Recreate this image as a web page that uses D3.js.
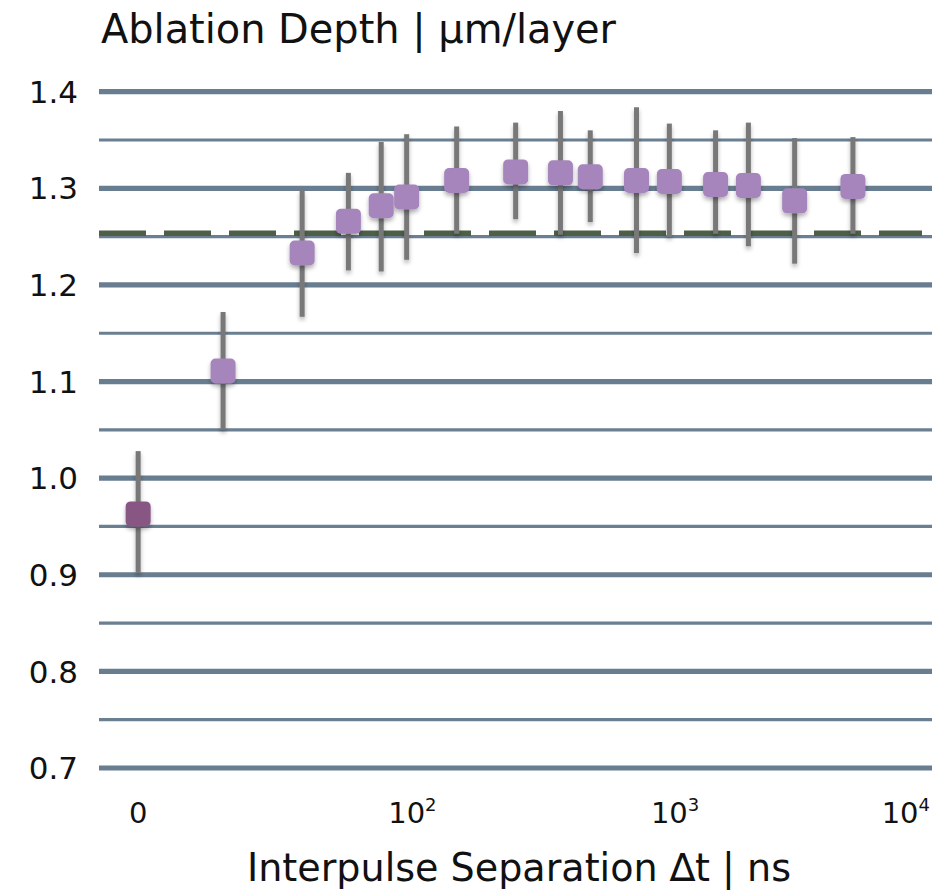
<!DOCTYPE html>
<html>
<head>
<meta charset="utf-8">
<script src="https://cdnjs.cloudflare.com/ajax/libs/d3/7.8.5/d3.min.js"></script>
<style>
  body { margin: 0; background: #fff; }
  svg { display: block; }
</style>
</head>
<body>
<svg width="951" height="890"></svg>
<script>
// interpulse separation in ns (0 = single pulse) and ablation depth in µm/layer
const delays = [0, 20, 40, 60, 80, 100, 155, 260, 385, 500, 750, 1000, 1500, 2000, 3000, 5000];
const depth = [0.963, 1.111, 1.233, 1.266, 1.282, 1.291, 1.308, 1.317, 1.316, 1.312, 1.308, 1.307, 1.304, 1.303, 1.287, 1.302];
const depthLow = [0.902, 1.050, 1.167, 1.215, 1.214, 1.226, 1.253, 1.268, 1.252, 1.265, 1.233, 1.250, 1.253, 1.240, 1.222, 1.253];
const depthHigh = [1.028, 1.172, 1.298, 1.316, 1.348, 1.356, 1.364, 1.368, 1.380, 1.360, 1.384, 1.367, 1.360, 1.368, 1.352, 1.353];
const referenceDepth = 1.2535;

const yMajor = [0.7, 0.8, 0.9, 1.0, 1.1, 1.2, 1.3, 1.4];
const yMinor = [0.75, 0.85, 0.95, 1.05, 1.15, 1.25, 1.35];
const xTicks = [0, 100, 1000, 10000];
const xTickBase = ["0", "10", "10", "10"];
const xTickExp = ["", "2", "3", "4"];

const svg = d3.select("svg");
const gridLeft = 99, gridRight = 932;

// log axis; the 0 ns point sits just left of 10 ns
const zeroAt = 9.5;
const xLog = d3.scaleLog().domain([10, 10000]).range([144, 932]);
const x = d => xLog(d === 0 ? zeroAt : d);
const y = d3.scaleLinear().domain([0.7, 1.4]).range([768, 91.7]);

const defs = svg.append("defs");
const shadow = defs.append("filter").attr("id", "shadow")
    .attr("x", "-50%").attr("y", "-50%").attr("width", "200%").attr("height", "200%");
shadow.append("feDropShadow").attr("dx", 0).attr("dy", 3).attr("stdDeviation", 2)
    .attr("flood-color", "#000").attr("flood-opacity", 0.3);

// grid
svg.append("g").selectAll("line").data(yMinor).join("line")
    .attr("x1", gridLeft).attr("x2", gridRight)
    .attr("y1", d => y(d)).attr("y2", d => y(d))
    .attr("stroke", "#6a7f92").attr("stroke-width", 3.2);
svg.append("g").selectAll("line").data(yMajor).join("line")
    .attr("x1", gridLeft).attr("x2", gridRight)
    .attr("y1", d => y(d)).attr("y2", d => y(d))
    .attr("stroke", "#687d90").attr("stroke-width", 5.2);

// reference level
svg.append("line")
    .attr("x1", gridLeft).attr("x2", 922)
    .attr("y1", y(referenceDepth)).attr("y2", y(referenceDepth))
    .attr("stroke", "#4e5f47").attr("stroke-width", 5.5)
    .attr("stroke-dasharray", "47 18");

// y tick labels
svg.append("g").selectAll("text").data(yMajor).join("text")
    .attr("x", 78).attr("y", d => y(d))
    .attr("dy", "0.36em")
    .attr("text-anchor", "end")
    .attr("font-family", "DejaVu Sans, Verdana, sans-serif")
    .attr("font-size", 31)
    .attr("fill", "#111")
    .text(d => d.toFixed(1));

// x tick labels
const xt = svg.append("g").selectAll("text").data(xTicks).join("text")
    .attr("y", 823)
    .attr("font-family", "DejaVu Sans, sans-serif")
    .attr("font-size", 29)
    .attr("fill", "#111");
xt.append("tspan").text((d, i) => xTickBase[i]);
xt.append("tspan").attr("font-size", 18).attr("dy", -12).text((d, i) => xTickExp[i]);
xt.each(function(d, i) {
    const el = d3.select(this);
    if (i === xTicks.length - 1) {
        el.attr("text-anchor", "end").attr("x", x(d) - 2);
    } else {
        const w = this.getSubStringLength(0, xTickBase[i].length);
        el.attr("x", x(d) - w / 2);
    }
});

const points = delays.map((d, i) => ({ t: d, v: depth[i], lo: depthLow[i], hi: depthHigh[i] }));

// error bars
svg.append("g").attr("filter", "url(#shadow)")
    .selectAll("line").data(points).join("line")
    .attr("x1", d => x(d.t)).attr("x2", d => x(d.t))
    .attr("y1", d => y(d.lo)).attr("y2", d => y(d.hi))
    .attr("stroke", "#787878").attr("stroke-width", 5);

// markers
const size = 25;
svg.append("g").attr("filter", "url(#shadow)")
    .selectAll("rect").data(points).join("rect")
    .attr("x", d => x(d.t) - size / 2).attr("y", d => y(d.v) - size / 2)
    .attr("width", size).attr("height", size)
    .attr("rx", 5)
    .attr("fill", d => d.t === 0 ? "#875683" : "#a585bb");

// titles
svg.append("text")
    .attr("x", 101).attr("y", 43)
    .attr("font-family", "DejaVu Sans Condensed, DejaVu Sans, sans-serif")
    .attr("font-size", 40)
    .attr("textLength", 515).attr("lengthAdjust", "spacingAndGlyphs")
    .attr("fill", "#111")
    .text("Ablation Depth | µm/layer");

svg.append("text")
    .attr("x", 247).attr("y", 881)
    .attr("font-family", "DejaVu Sans Condensed, DejaVu Sans, sans-serif")
    .attr("font-size", 39)
    .attr("textLength", 544).attr("lengthAdjust", "spacingAndGlyphs")
    .attr("fill", "#111")
    .text("Interpulse Separation ∆t | ns");
</script>
</body>
</html>
